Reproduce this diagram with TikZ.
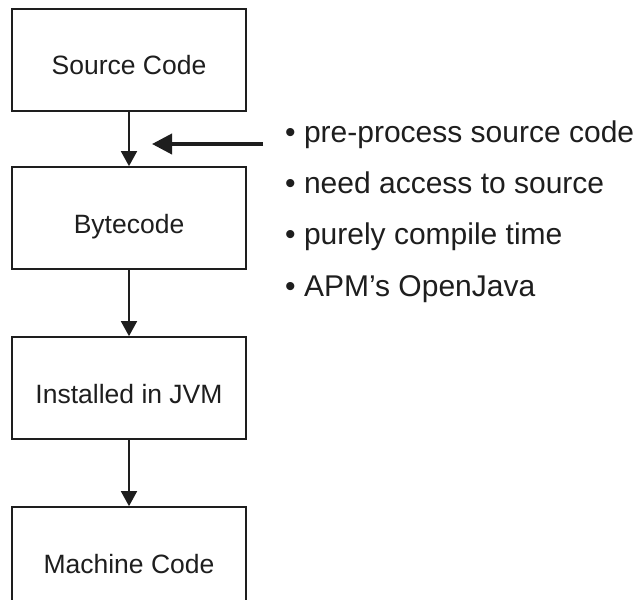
\documentclass[tikz,border=0pt]{standalone}
\usepackage{fontspec}
\setmainfont{Liberation Sans}
\usetikzlibrary{arrows.meta}
\definecolor{ink}{HTML}{1E1E1E}
\begin{document}
\begin{tikzpicture}[x=1pt,y=-1pt,
  stage/.style={draw=ink, line width=1.7pt, minimum width=234pt, minimum height=102pt,
    inner sep=0pt, text height=30pt, text depth=0pt,
    font=\fontsize{26.5}{30}\selectfont, text=ink},
  flow/.style={draw=ink, line width=1.7pt, -{Triangle[width=16pt,length=15pt]}},
  hint/.style={draw=ink, line width=3.8pt, -{Triangle[width=20pt,length=20pt]}},
  point/.style={anchor=base west, inner sep=0pt, font=\fontsize{30}{36}\selectfont, text=ink}]
  % page frame; the last stage runs off the bottom edge
  \clip (0,0) rectangle (639,599);
  \fill[white] (0,0) rectangle (639,599);

  % processing stages
  \node[stage] (src)  at (129,60)  {Source Code};
  \node[stage] (byte) at (129,218) {Bytecode};
  \node[stage] (jvm)  at (129,388) {Installed in JVM};
  \node[stage] (mach) at (129,558) {Machine Code};

  \draw[flow] (src)  -- (byte);
  \draw[flow] (byte) -- (jvm);
  \draw[flow] (jvm)  -- (mach);

  % pointer to the source-to-bytecode step
  \coordinate (hintfrom) at (263,144);
  \coordinate (hintto)   at (152,144);
  \draw[hint] (hintfrom) -- (hintto);

  % notes
  \node[point] (n1) at (285,142) {• pre-process source code};
  \node[point] (n2) at (285,193) {• need access to source};
  \node[point] (n3) at (285,244) {• purely compile time};
  \node[point] (n4) at (285,296) {• APM’s OpenJava};
\end{tikzpicture}
\end{document}
